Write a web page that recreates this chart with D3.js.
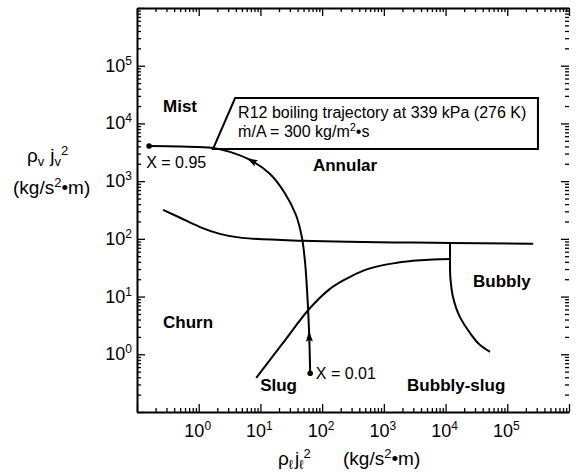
<!DOCTYPE html>
<html>
<head>
<meta charset="utf-8">
<script src="https://cdn.jsdelivr.net/npm/d3@7"></script>
<style>
  body { margin: 0; background: #fff; }
  svg text { font-family: Arial, "Liberation Sans", Helvetica, sans-serif; fill: #000; }
</style>
</head>
<body>
<svg id="chart" width="578" height="475"></svg>
<script>
// ── Data (kg/s²·m) ───────────────────────────────────────────────────────────
// R12 boiling trajectory, from X = 0.01 up to X = 0.95
const trajX = [64, 61.3, 56.9, 52.8, 47.2, 37.7, 24.2, 14.3, 7.3, 3.2, 1.7, 0.5, 0.157];
const trajY = [0.47, 2.64, 13, 39.7, 103, 259, 650, 1333, 2240, 3210, 3760, 3990, 4070];

// annular / churn boundary
const annX = [0.264, 0.5, 1.05, 2.2, 5, 49, 11800, 263000];
const annY = [317, 232, 160, 122, 104, 93, 85, 82];

// churn-slug / bubbly boundary
const slugX = [8.55, 23.2, 63.7, 134, 250, 500, 1630, 3850, 11800];
const slugY = [0.39, 1.57, 6.34, 13.6, 20.5, 29, 38.5, 42.5, 44.8];

// bubbly / bubbly-slug boundary (vertical part then curve)
const bubX = [11800, 11800, 12200, 13200, 17100, 24900, 36100, 52500];
const bubY = [85, 30, 17, 9.8, 4.4, 2.34, 1.45, 1.1];

// arrows along the trajectory
const arrowX = [61.5, 7.3];
const arrowY = [2.0, 2240];

// end points of the trajectory
const markX = [64, 0.157];
const markY = [0.47, 4070];
const markText = ['X = 0.01', 'X = 0.95'];
const markTextX = [79, 0.141];
const markTextY = [0.374, 1683];

// regime names
const regimes = ['Mist', 'Annular', 'Churn', 'Slug', 'Bubbly', 'Bubbly-slug'];
const regimeX = [0.264, 71, 0.264, 9.9, 27900, 2380];
const regimeY = [15800, 1470, 2.85, 0.23, 14.5, 0.23];

// axis ticks
const majors = [0.1, 1, 10, 100, 1e3, 1e4, 1e5, 1e6];
const labelled = [1, 10, 100, 1e3, 1e4, 1e5];
const exps = ['0', '1', '2', '3', '4', '5'];
const minors = d3.merge([0.1, 1, 10, 100, 1e3, 1e4, 1e5].map(d => d3.range(2, 10).map(k => k * d)));

// callout box corners (data coords)
const boxX = [1.7, 3.89, 314000, 314000];
const boxY = [3600, 27500, 27500, 3600];

// ── Layout ──────────────────────────────────────────────────────────────────
const L = 137, R = 569, T = 8, B = 412;
const x = d3.scaleLog().domain([0.1, 1e6]).range([L, R]);
const y = d3.scaleLog().domain([0.1, 1e6]).range([B, T]);
const svg = d3.select('#chart');

// ── Axes ─────────────────────────────────────────────────────────────────────
function axisPair(mk, tr, keepDomain) {
  const gMaj = svg.append('g').attr('transform', tr)
    .call(mk(majors).tickSizeInner(-8).tickSizeOuter(0).tickFormat(''));
  const gMin = svg.append('g').attr('transform', tr)
    .call(mk(minors).tickSizeInner(-4).tickSizeOuter(0).tickFormat(''));
  gMin.select('.domain').remove();
  if (!keepDomain) gMaj.select('.domain').remove();
  [gMaj, gMin].forEach(g => {
    g.selectAll('.tick line').attr('stroke', '#000').attr('stroke-width', 1.3);
    g.select('.domain').attr('stroke', '#000').attr('stroke-width', 2);
  });
}
axisPair(v => d3.axisBottom(x).tickValues(v), `translate(0,${B})`, true);
axisPair(v => d3.axisTop(x).tickValues(v), `translate(0,${T})`, true);
axisPair(v => d3.axisLeft(y).tickValues(v), `translate(${L},0)`, true);
axisPair(v => d3.axisRight(y).tickValues(v), `translate(${R},0)`, false);

// tick labels 10^n
const xl = svg.append('g').selectAll('text').data(labelled).join('text')
  .attr('x', d => x(d) - 1).attr('y', B + 25).attr('text-anchor', 'middle')
  .attr('font-size', 18).text('10');
xl.append('tspan').attr('dy', -7).attr('font-size', 12).text((d, i) => exps[i]);

const yl = svg.append('g').selectAll('text').data(labelled).join('text')
  .attr('x', L - 5).attr('y', d => y(d) + 6).attr('text-anchor', 'end')
  .attr('font-size', 18).text('10');
yl.append('tspan').attr('dy', -7).attr('font-size', 12).text((d, i) => exps[i]);

// axis titles
const xt = svg.append('text').attr('x', 278).attr('y', 465).attr('font-size', 19);
xt.append('tspan').text('ρ');
xt.append('tspan').attr('dy', 4).attr('font-size', 13).text('ℓ');
xt.append('tspan').attr('dy', -4).attr('dx', 2).text('j');
xt.append('tspan').attr('dy', 4).attr('font-size', 13).text('ℓ');
xt.append('tspan').attr('dy', -11).attr('font-size', 13).text('2');
const xu = svg.append('text').attr('x', 343).attr('y', 465).attr('font-size', 19);
xu.append('tspan').text('(kg/s');
xu.append('tspan').attr('dy', -7).attr('font-size', 13).text('2');
xu.append('tspan').attr('dy', 7).text('•m)');

const yt = svg.append('text').attr('x', 27).attr('y', 162).attr('font-size', 19);
yt.append('tspan').text('ρ');
yt.append('tspan').attr('dy', 4).attr('font-size', 13).text('v');
yt.append('tspan').attr('dy', -4).attr('dx', 6).text('j');
yt.append('tspan').attr('dy', 4).attr('font-size', 13).text('v');
yt.append('tspan').attr('dy', -11).attr('font-size', 13).text('2');

const yu = svg.append('text').attr('x', 13).attr('y', 194).attr('font-size', 19);
yu.append('tspan').text('(kg/s');
yu.append('tspan').attr('dy', -7).attr('font-size', 13).text('2');
yu.append('tspan').attr('dy', 7).text('•m)');

// ── Callout ──────────────────────────────────────────────────────────────────
const poly = boxX.map((d, i) => [x(d), y(boxY[i])]);
svg.append('path').attr('d', d3.line()(poly) + 'Z')
  .attr('fill', '#fff').attr('stroke', '#000').attr('stroke-width', 2);
svg.append('text').attr('x', x(boxX[1]) + 3).attr('y', 118).attr('font-size', 16)
  .text('R12 boiling trajectory at 339 kPa (276 K)');
const t2 = svg.append('text').attr('x', x(boxX[1]) + 3).attr('y', 137).attr('font-size', 16);
t2.append('tspan').text('ṁ/A = 300 kg/m');
t2.append('tspan').attr('dy', -6).attr('font-size', 11).text('2');
t2.append('tspan').attr('dy', 6).text('•s');

// ── Curves ───────────────────────────────────────────────────────────────────
function curve(xs, ys, kind) {
  const line = d3.line().x(d => x(d[0])).y(d => y(d[1])).curve(kind);
  return svg.append('path').datum(xs.map((d, i) => [d, ys[i]])).attr('d', line)
    .attr('fill', 'none').attr('stroke', '#000').attr('stroke-width', 2);
}
curve(annX, annY, d3.curveMonotoneX);
curve(slugX, slugY, d3.curveMonotoneX);
curve(bubX, bubY, d3.curveMonotoneY);
const traj = curve(trajX, trajY, d3.curveCatmullRom.alpha(0.5));

// arrowheads along trajectory direction
const node = traj.node();
const len = node.getTotalLength();
arrowX.forEach((ax, i) => {
  const px = x(ax), py = y(arrowY[i]);
  let best = 0, bd = Infinity;
  for (let l = 0; l <= len; l += 0.5) {
    const p = node.getPointAtLength(l);
    const dd = (p.x - px) ** 2 + (p.y - py) ** 2;
    if (dd < bd) { bd = dd; best = l; }
  }
  const p0 = node.getPointAtLength(best - 2), p1 = node.getPointAtLength(best + 2);
  const a = Math.atan2(p1.y - p0.y, p1.x - p0.x);
  const c = node.getPointAtLength(best);
  svg.append('path').attr('d', 'M6,0L-5,-3.5L-3,0L-5,3.5Z')
    .attr('transform', `translate(${c.x},${c.y}) rotate(${a * 180 / Math.PI})`)
    .attr('fill', '#000');
});

// end points
svg.append('g').selectAll('circle').data(markX).join('circle')
  .attr('cx', d => x(d)).attr('cy', (d, i) => y(markY[i])).attr('r', 2.8).attr('fill', '#000');
svg.append('g').selectAll('text').data(markText).join('text')
  .attr('x', (d, i) => x(markTextX[i])).attr('y', (d, i) => y(markTextY[i]))
  .attr('font-size', 16).text(d => d);

// regime names
svg.append('g').selectAll('text').data(regimes).join('text')
  .attr('x', (d, i) => x(regimeX[i])).attr('y', (d, i) => y(regimeY[i]))
  .attr('font-size', 17).attr('font-weight', 'bold').text(d => d);
</script>
</body>
</html>
